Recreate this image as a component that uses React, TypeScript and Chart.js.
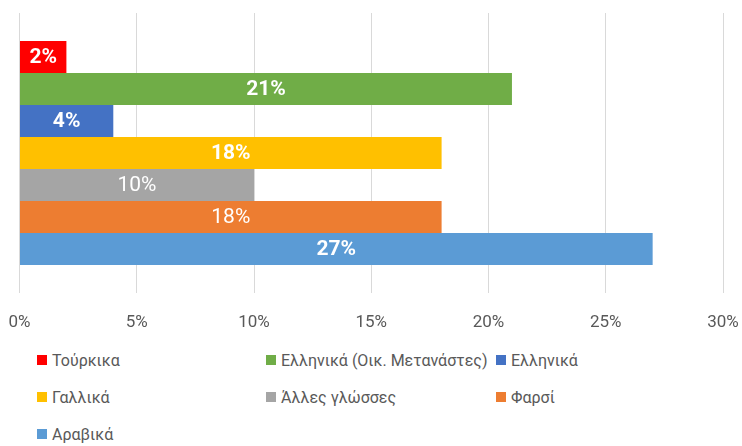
import React, { useEffect, useRef } from "react";
import { Chart, registerables } from "chart.js";

Chart.register(...registerables);

const seriesNames = [
  "Τούρκικα",
  "Ελληνικά (Οικ. Μετανάστες)",
  "Ελληνικά",
  "Γαλλικά",
  "Άλλες γλώσσες",
  "Φαρσί",
  "Αραβικά",
];
const seriesValues = [2, 21, 4, 18, 10, 18, 27];
const seriesColors = ["#FF0000", "#70AD47", "#4472C4", "#FFC000", "#A5A5A5", "#ED7D31", "#5B9BD5"];
const boldLabel = [true, true, true, true, false, false, true];
const xTicks = [0, 5, 10, 15, 20, 25, 30];

const FONT = "Roboto, 'Noto Sans', sans-serif";

const legendPos = [
  [37, 360], [266, 360], [496, 360],
  [37, 397], [266, 397], [496, 397],
  [37, 434],
];

export default function App() {
  const ref = useRef<HTMLCanvasElement>(null);
  useEffect(() => {
    const labelPlugin = {
      id: "barLabels",
      afterDatasetsDraw(chart: any) {
        const ctx = chart.ctx;
        ctx.save();
        chart.data.datasets.forEach((ds: any, i: number) => {
          const meta = chart.getDatasetMeta(i);
          meta.data.forEach((el: any, j: number) => {
            const v = ds.data[j];
            const cx = (el.x + el.base) / 2;
            ctx.font = (boldLabel[i] ? "bold " : "") + "21px " + FONT;
            ctx.fillStyle = "#FFFFFF";
            ctx.textAlign = "center";
            ctx.textBaseline = "middle";
            ctx.fillText(v + "%", cx, el.y + 1);
          });
        });
        ctx.restore();
      },
    };
    const chart = new Chart(ref.current!, {
      type: "bar",
      data: {
        labels: [""],
        datasets: seriesNames.map((n, i) => ({
          label: n,
          data: [seriesValues[i]],
          backgroundColor: seriesColors[i],
          borderWidth: 0,
          categoryPercentage: 0.8,
          barPercentage: 1.0,
        })),
      },
      options: {
        indexAxis: "y",
        responsive: false,
        animation: false,
        layout: { padding: { left: 19.5, right: 19, top: 13, bottom: 0 } },
        plugins: { legend: { display: false }, tooltip: { enabled: false } },
        scales: {
          x: {
            min: 0,
            max: 30,
            afterBuildTicks: (axis: any) => {
              axis.ticks = xTicks.map((v) => ({ value: v }));
            },
            afterFit: (axis: any) => {
              axis.paddingLeft = 0;
              axis.paddingRight = 0;
              axis.paddingTop = 0;
              axis.paddingBottom = 0;
              axis.height = 47;
            },
            ticks: {
              callback: (v: any) => v + "%",
              color: "#595959",
              font: { family: FONT, size: 17 },
              padding: 20,
              maxRotation: 0,
              autoSkip: false,
            },
            grid: { color: "#D9D9D9", lineWidth: 1, drawTicks: false },
            border: { display: false },
          },
          y: { display: false },
        },
      },
      plugins: [labelPlugin],
    });
    return () => chart.destroy();
  }, []);

  return (
    <div style={{ position: "fixed", left: 0, top: 0, width: 742, height: 446, background: "#fff", fontFamily: FONT }}>
      <canvas ref={ref} width={742} height={340} style={{ position: "absolute", left: 0, top: 0, width: 742, height: 340 }} />
      {seriesNames.map((n, i) => (
        <div
          key={n}
          style={{
            position: "absolute",
            left: legendPos[i][0],
            top: legendPos[i][1] - 11,
            height: 22,
            display: "flex",
            alignItems: "center",
            whiteSpace: "nowrap",
            color: "#595959",
            fontSize: 16,
          }}
        >
          <span style={{ display: "inline-block", width: 10, height: 10, background: seriesColors[i], marginRight: 5 }} />
          <span>{n}</span>
        </div>
      ))}
    </div>
  );
}
